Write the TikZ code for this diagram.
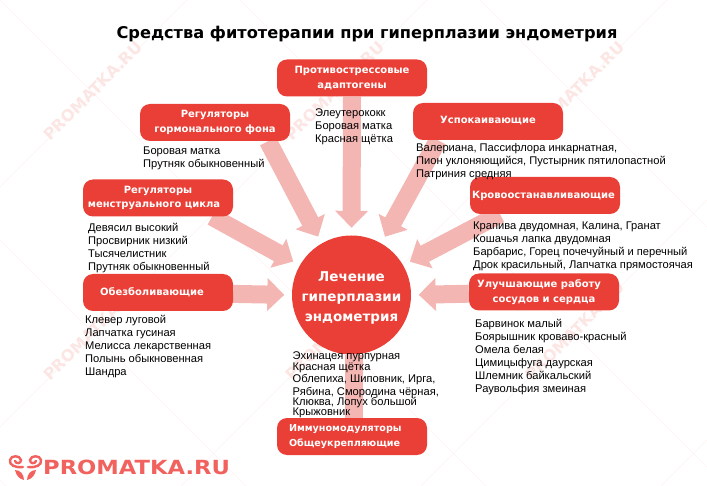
\documentclass[tikz,border=0pt]{standalone}
\usepackage{fontspec}
\setmainfont{Liberation Sans}
\newfontfamily\wideface{DejaVu Sans}
\newfontfamily\logoface{DejaVu Sans}[FakeStretch=1.16]
\usetikzlibrary{arrows.meta, positioning, backgrounds}

\definecolor{boxred}{HTML}{E93F36}
\definecolor{arrowpink}{HTML}{F3B6B3}
\definecolor{markline}{HTML}{FDF1F0}
\definecolor{marktext}{HTML}{FCE6E4}
\definecolor{logored}{HTML}{F1625F}

\tikzset{
    groupbox/.style={fill=boxred, text=white, rounded corners=10pt, minimum width=150pt, minimum height=37pt,
        inner sep=0pt, align=center, font=\wideface\bfseries\fontsize{10}{14.5}\selectfont},
    herblist/.style={anchor=north west, inner sep=0pt, align=left, font=\fontsize{11.15}{13}\selectfont},
    bigarrow/.style={draw=arrowpink, line width=18pt, shorten >=7.5pt, -{Triangle[length=17pt, width=32pt, fill=arrowpink]}},
    markword/.style={text=marktext, font=\wideface\bfseries\fontsize{16}{16}\selectfont, rotate=45}
}

\begin{document}
\begin{tikzpicture}[x=1pt, y=-1pt]
\useasboundingbox (0,0) rectangle (707,486);

% Title
\node[font=\wideface\bfseries\fontsize{16.2}{17}\selectfont] (title) at (367,34.5) {Средства фитотерапии при гиперплазии эндометрия};

% Centre
\node[circle, fill=boxred, text=white, minimum size=119pt, inner sep=0pt, align=center,
    font=\wideface\bfseries\fontsize{13.5}{20}\selectfont] (treat) at (351.5,295)
    {\rule{0pt}{15pt}Лечение\\гиперплазии\\эндометрия};

% Groups
\node[groupbox] (adapt) at (352,78) {Противострессовые\\адаптогены};
\node[groupbox] (hormon) at (215,122.5) {Регуляторы\\гормонального фона};
\node[groupbox] (cycle) at (158,198) {Регуляторы\\менструального цикла\hspace*{8pt}};
\node[groupbox] (pain) at (158,292.5) {Обезболивающие\hspace*{12pt}};
\node[groupbox] (calm) at (488,121.5) {\raisebox{3pt}{Успокаивающие}};
\node[groupbox] (blood) at (545,195.5) {Кровоостанавливающие\hspace*{3pt}};
\node[groupbox] (vessel) at (544,292) {Улучшающие работу\hspace*{10pt}\\сосудов и сердца};
\node[groupbox, align=left, text width=126pt, font=\wideface\bfseries\fontsize{9.6}{14.5}\selectfont] (immune) at (352,436.5) {Иммуномодуляторы\\Общеукрепляющие};

% Herb lists
\node[herblist] (adaptlist) at (315,109) {Элеутерококк\\Боровая матка\\Красная щётка};
\node[herblist] (hormonlist) at (143,147) {Боровая матка\\Прутняк обыкновенный};
\node[herblist] (cyclelist) at (88,223) {Девясил высокий\\Просвирник низкий\\Тысячелистник\\Прутняк обыкновенный};
\node[herblist] (painlist) at (85,315) {Клевер луговой\\Лапчатка гусиная\\Мелисса лекарственная\\Полынь обыкновенная\\Шандра};
\node[herblist] (calmlist) at (416,143) {Валериана, Пассифлора инкарнатная,\\Пион уклоняющийся, Пустырник пятилопастной\\Патриния средняя};
\node[herblist] (bloodlist) at (473,222) {Крапива двудомная, Калина, Гранат\\Кошачья лапка двудомная\\Барбарис, Горец почечуйный и перечный\\Дрок красильный, Лапчатка прямостоячая};
\node[herblist] (vessellist) at (475,319) {Барвинок малый\\Боярышник кроваво-красный\\Омела белая\\Цимицыфуга даурская\\Шлемник байкальский\\Раувольфия змеиная};
\node[herblist] (immunelist) at (292.5,352) {Эхинацея пурпурная\\[-2.5pt]Красная щётка\\[-1pt]Облепиха, Шиповник, Ирга,\\Рябина, Смородина чёрная,\\[-3pt]Клюква, Лопух большой\\[-3pt]Крыжовник};

% Logo
\node[anchor=west, inner sep=0pt, text=logored, font=\logoface\bfseries\fontsize{19.5}{20}\selectfont] (logo) at (43,467) {PROMATKA.RU};

\begin{scope}[on background layer]
% Watermark
\begin{scope}
\clip (0,0) rectangle (707,486);
\foreach \d in {187, 427, 667, 907, 1147} {
    \draw[markline] (\d,0) -- (\d-486,486);
}
\foreach \d in {-480, -240, 0, 240, 480, 720} {
    \draw[markline] (\d,0) -- (\d+486,486);
}
\foreach \cx/\cy/\nm in {93/91/a, 335/91/b, 575/91/c, 93/331/d, 335/331/e, 575/331/f} {
    \node[markword] (mark\nm) at (\cx,\cy) {PROMATKA.RU};
}
\end{scope}

% Arrows to the centre
\foreach \from/\xs/\ang in {adapt/0/90, hormon/53/120, cycle/54/150, calm/-50/60, blood/-45/30} {
    \draw[bigarrow] ([xshift=\xs pt]\from.south) -- (treat.\ang);
}
\draw[bigarrow] (pain) -- (treat.180);
\draw[bigarrow] (vessel) -- (treat.0);
\draw[arrowpink, line width=18pt] ([xshift=2pt]immune.north) -- ([xshift=2.5pt]treat.south);
\end{scope}

% Logo mark
\draw[logored, line width=2.4pt, line cap=round] (23,467) .. controls (15,468) and (9,465) .. (10,460)
    .. controls (11,455) and (20,455) .. (21,460) .. controls (21,464) and (16,464) .. (15,461);
\draw[logored, line width=2.4pt, line cap=round] (28,467) .. controls (36,468) and (42,465) .. (41,460)
    .. controls (40,455) and (31,455) .. (30,460) .. controls (30,464) and (35,464) .. (36,461);
\fill[logored] (15,470) .. controls (20,470) and (24,474) .. (24,480) .. controls (19,479) and (16,475) .. (15,470) -- cycle;
\fill[logored] (36,470) .. controls (31,470) and (27,474) .. (27,480) .. controls (32,479) and (35,475) .. (36,470) -- cycle;
\end{tikzpicture}
\end{document}
